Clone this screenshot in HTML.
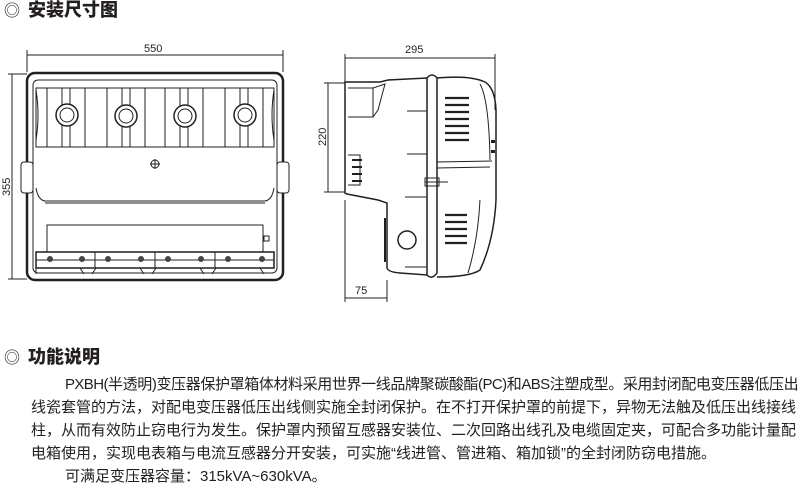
<!DOCTYPE html>
<html><head><meta charset="utf-8"><style>
body{margin:0;background:#fff;width:800px;height:485px;overflow:hidden;position:relative;font-family:"Liberation Sans","Noto Sans CJK SC",sans-serif;color:#231f20}
.h{position:absolute;font-weight:900;font-size:18px;left:4px;line-height:20px;font-family:"Liberation Sans","Noto Sans CJK SC",sans-serif}
.h span{font-weight:normal;font-size:16px;margin-right:8px}
.l{position:absolute;font-size:15px;line-height:18px;white-space:nowrap;text-align:justify;text-align-last:justify}
svg{position:absolute;left:0;top:0}
</style></head><body>
<div class="h" style="top:0px"><span>◎</span>安装尺寸图</div>
<div class="h" style="top:347px"><span>◎</span>功能说明</div>
<div class="l" style="left:65px;top:376px;width:733px;letter-spacing:-0.6px">PXBH(半透明)变压器保护罩箱体材料采用世界一线品牌聚碳酸酯(PC)和ABS注塑成型。采用封闭配电变压器低压出</div>
<div class="l" style="left:31px;top:399px;width:753px">线瓷套管的方法，对配电变压器低压出线侧实施全封闭保护。在不打开保护罩的前提下，异物无法触及低压出线接线</div>
<div class="l" style="left:31px;top:422px;width:751px">柱，从而有效防止窃电行为发生。保护罩内预留互感器安装位、二次回路出线孔及电缆固定夹，可配合多功能计量配</div>
<div class="l" style="left:31px;top:445px;text-align-last:auto">电箱使用，实现电表箱与电流互感器分开安装，可实施“线进管、管进箱、箱加锁”的全封闭防窃电措施。</div>
<div class="l" style="left:65px;top:468px;text-align-last:auto">可满足变压器容量：315kVA~630kVA。</div>
<svg width="800" height="340" viewBox="0 0 800 340" fill="none" stroke="#231f20" stroke-width="1">
<g font-family="Liberation Sans" font-size="11" fill="#231f20" stroke="none">
<text x="144" y="52">550</text>
<text x="405" y="53">295</text>
<text x="355" y="294">75</text>
<text transform="translate(10,196) rotate(-90)">355</text>
<text transform="translate(326,146) rotate(-90)">220</text>
</g>
<line x1="27" y1="55" x2="283" y2="55"/><line x1="27" y1="50" x2="27" y2="72"/><line x1="283" y1="50" x2="283" y2="72"/>
<line x1="12" y1="74" x2="12" y2="279"/><line x1="8" y1="74" x2="27" y2="74"/><line x1="8" y1="279" x2="27" y2="279"/>
<rect x="27" y="73" width="256" height="207" rx="8" stroke-width="2.5"/>
<rect x="33" y="80" width="244" height="193" rx="5"/>
<rect x="21" y="162" width="12" height="31" rx="3" fill="#fff"/>
<rect x="277" y="162" width="12" height="31" rx="3" fill="#fff"/>
<path d="M36 88 H274 V147 H36Z"/>
<path d="M36 90 Q40 115 36 140"/>
<path d="M274 90 Q270 115 274 140"/>
<g fill="#fff">
<rect x="47" y="88" width="15" height="59"/><rect x="70" y="88" width="15" height="59"/>
<rect x="107" y="88" width="15" height="59"/><rect x="130" y="88" width="15" height="59"/>
<rect x="165" y="88" width="15" height="59"/><rect x="188" y="88" width="15" height="59"/>
<rect x="225" y="88" width="15" height="59"/><rect x="248" y="88" width="15" height="59"/>
<circle cx="67" cy="115" r="11" stroke-width="1.5"/><circle cx="67" cy="115" r="7"/>
<circle cx="126" cy="116" r="11" stroke-width="1.5"/><circle cx="126" cy="116" r="7"/>
<circle cx="185" cy="116" r="11" stroke-width="1.5"/><circle cx="185" cy="116" r="7"/>
<circle cx="245" cy="115" r="11" stroke-width="1.5"/><circle cx="245" cy="115" r="7"/>
</g>
<circle cx="155" cy="164" r="4"/><line x1="150" y1="164" x2="160" y2="164"/><line x1="155" y1="159" x2="155" y2="169"/>
<path d="M36 188 Q38 200 45 201 H265 Q272 200 274 188"/>
<line x1="45" y1="203" x2="265" y2="203"/>
<rect x="47" y="225" width="216" height="27"/>
<rect x="264" y="236" width="5" height="5"/>
<rect x="36" y="252" width="238" height="16" stroke-width="1.5"/>
<g stroke-width="1"><line x1="95" y1="252" x2="95" y2="268"/><line x1="155" y1="252" x2="155" y2="268"/><line x1="215" y1="252" x2="215" y2="268"/>
<line x1="36" y1="260" x2="274" y2="260"/></g>
<g fill="#444" stroke="none"><circle cx="50" cy="259" r="3"/><circle cx="82" cy="259" r="3"/><circle cx="108" cy="259" r="3"/><circle cx="141" cy="259" r="3"/><circle cx="168" cy="259" r="3"/><circle cx="201" cy="259" r="3"/><circle cx="228" cy="259" r="3"/><circle cx="262" cy="259" r="3"/></g>
<path d="M36 268 V274 M80 268 L84 274 M96 268 L92 274 M140 268 L144 274 M156 268 L152 274 M200 268 L204 274 M216 268 L212 274 M260 268 L264 274"/>
<line x1="345" y1="58" x2="495" y2="58"/><line x1="345" y1="54" x2="345" y2="82"/><line x1="495" y1="54" x2="495" y2="110"/>
<line x1="328" y1="83" x2="328" y2="192"/><line x1="324" y1="83" x2="345" y2="83"/><line x1="324" y1="192" x2="345" y2="192"/>
<line x1="345" y1="298" x2="387" y2="298"/><line x1="345" y1="200" x2="345" y2="302"/><line x1="387" y1="280" x2="387" y2="302"/>
<path d="M345 82 H380 L388 80 L427 78 V275 L400 273 Q388 272 387 268 V203 L378 200 L347 194 L345 193 Z" stroke-width="1.5"/>
<path d="M348 88 H373 V117 H348 M373 88 L385 84 L378 110 L373 117"/>
<path d="M348 155 H360 V185 H348"/>
<g stroke-width="2"><line x1="352" y1="160" x2="362" y2="160"/><line x1="352" y1="167" x2="362" y2="167"/><line x1="352" y1="174" x2="362" y2="174"/><line x1="352" y1="181" x2="362" y2="181"/></g>
<path d="M385 218 V262" stroke-width="2"/>
<line x1="407" y1="111" x2="427" y2="111"/><line x1="407" y1="154" x2="427" y2="154"/><line x1="405" y1="197" x2="427" y2="197"/><line x1="405" y1="267" x2="427" y2="267"/>
<circle cx="407" cy="240" r="9" stroke-width="1.5"/>
<path d="M427 78 Q432 72 437 78 V273 Q432 280 427 275" stroke-width="1.5"/>
<path d="M437 78 Q470 75 485 82 Q495 88 496 110 V200 Q494 240 480 270 Q470 277 437 277" stroke-width="1.5"/>
<path d="M480 84 Q489 100 490 160 M480 200 Q478 240 468 273"/>
<line x1="437" y1="162" x2="492" y2="161"/><line x1="437" y1="168" x2="490" y2="167"/>
<rect x="425" y="178" width="14" height="8"/><line x1="425" y1="182" x2="448" y2="182"/>
<g stroke-width="2.2"><line x1="445" y1="98" x2="469" y2="98"/><line x1="445" y1="105" x2="469" y2="105"/><line x1="445" y1="112" x2="469" y2="112"/><line x1="445" y1="119" x2="469" y2="119"/><line x1="445" y1="126" x2="469" y2="126"/><line x1="445" y1="133" x2="469" y2="133"/><line x1="445" y1="140" x2="469" y2="140"/>
<line x1="445" y1="215" x2="467" y2="215"/><line x1="445" y1="222" x2="467" y2="222"/><line x1="445" y1="229" x2="467" y2="229"/><line x1="445" y1="236" x2="467" y2="236"/><line x1="445" y1="243" x2="467" y2="243"/></g>
<g fill="#231f20" stroke="none"><rect x="491" y="140" width="4" height="3"/><rect x="491" y="150" width="4" height="3"/></g>
</svg>
</body></html>
